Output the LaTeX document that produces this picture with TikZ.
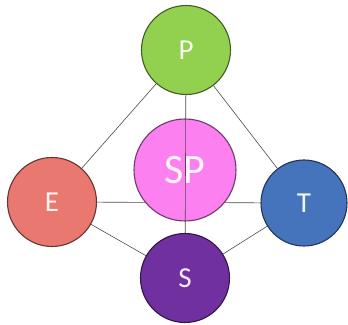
\documentclass[tikz,border=0pt]{standalone}
\usepackage{fontspec}
\setmainfont{Carlito}
\usetikzlibrary{backgrounds}

\definecolor{pgreen}{RGB}{146,208,80}
\definecolor{spink}{RGB}{252,128,240}
\definecolor{esalmon}{RGB}{232,120,112}
\definecolor{tblue}{RGB}{70,116,188}
\definecolor{spurple}{RGB}{112,48,160}

\begin{document}
\begin{tikzpicture}[
  x=1pt, y=1pt,
  ball/.style={circle, draw=#1!45!black, fill=#1, line width=1.1pt, inner sep=0pt,
    minimum size=89pt, text=white!92!#1, font=\fontsize{29}{29}\selectfont},
  link/.style={draw=black!70, line width=0.6pt}
]
\useasboundingbox (0,0) rectangle (348,324);

% outer circles
\node[ball=pgreen] (p) at (186,274) {P};
\node[ball=esalmon] (e) at (52,122) {E};
\node[ball=tblue, minimum size=86pt] (t) at (304,121) {T};
\node[ball=spurple] (s) at (185,46) {S};

% centre circle
\node[ball=spink, minimum size=102pt, font=\fontsize{42}{42}\selectfont] (sp) at (185,154) {SP};

% connections
\begin{scope}[on background layer]
\draw[link] (p) -- (e);
\draw[link] (p) -- (t);
\draw[link] (e) -- (s);
\draw[link] (t) -- (s);
\draw[link] (e) -- (t);
\end{scope}
\draw[link] (p) -- (s);

\end{tikzpicture}
\end{document}
